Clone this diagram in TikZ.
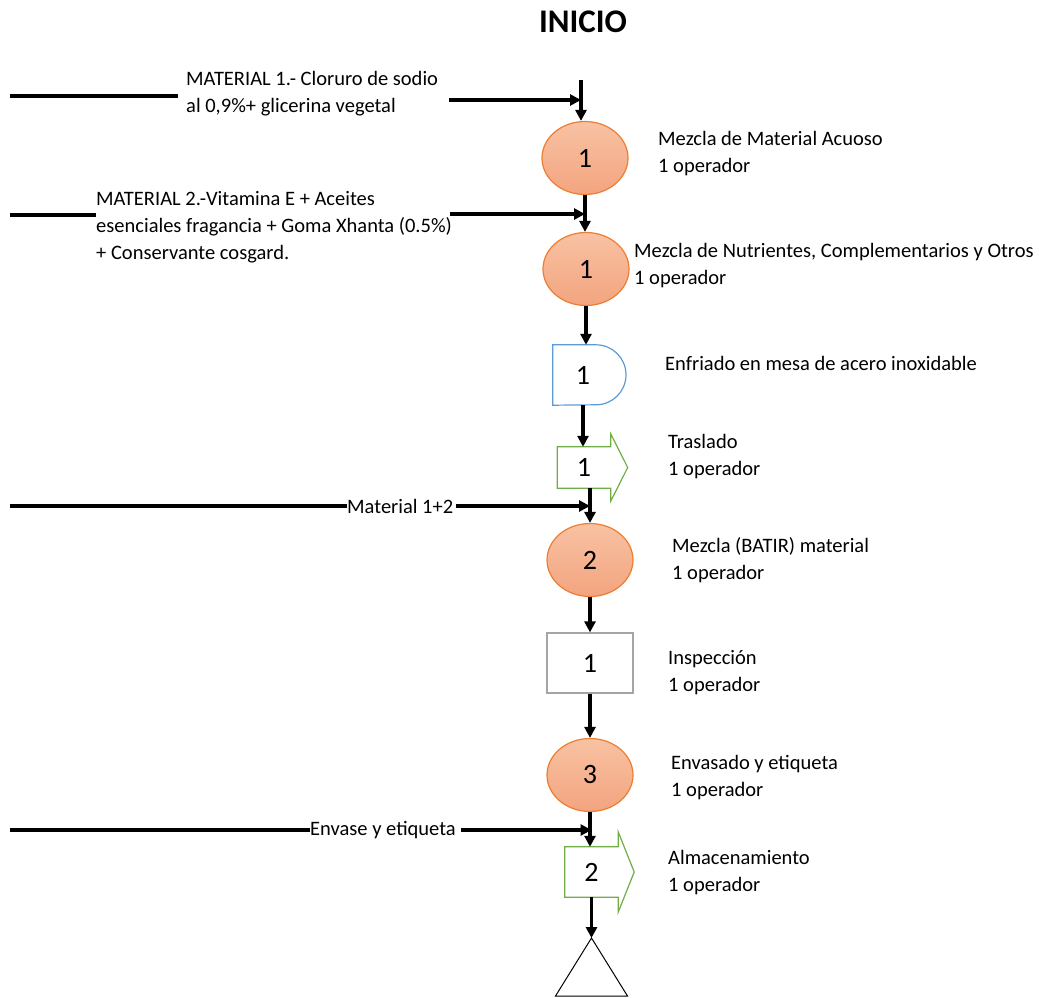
\documentclass[tikz,border=0pt]{standalone}
\usepackage{fontspec}
\setmainfont{Carlito}
\usetikzlibrary{arrows.meta,shapes.geometric}

\definecolor{opborde}{HTML}{ED7D31}
\definecolor{optop}{HTML}{F8C2A3}
\definecolor{opfondo}{HTML}{F3A47F}
\definecolor{demora}{HTML}{5B9BD5}
\definecolor{transp}{HTML}{70AD47}
\definecolor{inspgris}{HTML}{A5A5A5}

\tikzset{
  oper/.style={ellipse, draw=opborde, line width=1.2pt, top color=optop, bottom color=opfondo,
    minimum width=86pt, minimum height=73pt, inner sep=0pt, font=\fontsize{28}{30}\selectfont},
  numero/.style={inner sep=0pt, font=\fontsize{28}{30}\selectfont},
  texto/.style={inner sep=0pt, align=left, font=\fontsize{20.5}{27}\selectfont},
  flujo/.style={line width=3.2pt, -{Triangle[length=11pt,width=11pt]}},
  linea/.style={line width=3.2pt},
}

% flecha de traslado / almacenamiento (nodo, extension de la punta, largo de la punta)
\def\traslado(#1)(#2:#3){\draw[transp, line width=1.2pt, line join=miter]
  (#1.north west) -- (#1.north east) -- ([yshift=#2]#1.north east)
  -- ([xshift=#3]#1.east) -- ([yshift=-#2]#1.south east) -- (#1.south east)
  -- (#1.south west) -- cycle;}

\begin{document}
\begin{tikzpicture}[x=1pt,y=1pt]
  \useasboundingbox (0,0) rectangle (1039,-998);

  %%%%% TITULO %%%%%
  \node[inner sep=0pt, font=\fontsize{33}{36}\selectfont\bfseries] (inicio) at (583,-22) {INICIO};

  %%%%% LINEA PRINCIPAL %%%%%
  \coordinate (ini) at (581,-80);
  \node[oper] (c1) at (585,-158) {1};
  \node[oper] (c2) at (586,-269) {1};

  \node[numero, minimum width=60pt, minimum height=60pt] (d1) at (583,-375) {1};
  \draw[demora, line width=1.2pt] (d1.north west) -- ([xshift=13pt]d1.north)
    arc[start angle=90, end angle=-90, radius=30pt] -- (d1.south west) -- cycle;

  \node[numero, minimum width=53pt, minimum height=41pt] (t1) at (584,-467.5) {1};
  \traslado(t1)(13pt:17pt)

  \node[oper] (c3) at (590,-560) {2};
  \node[numero, draw=inspgris, line width=1.2pt, minimum width=86pt, minimum height=60pt] (r1) at (590,-663) {1};
  \node[oper] (c4) at (590,-775) {3};

  \node[numero, minimum width=53pt, minimum height=50pt] (t2) at (591.5,-872) {2};
  \traslado(t2)(15pt:16pt)

  \coordinate (alm) at (591.5,-938);
  \draw[line width=1pt] (alm) -- ++(-36,-58) -- ++(72,0) -- cycle;

  \draw[flujo] (ini) -- (ini |- c1.north);
  \draw[flujo] (c1.south) -- (c1.south |- c2.north);
  \draw[flujo] (c2.south) -- (c2.south |- d1.north);
  \draw[flujo] (d1.south) -- (d1.south |- t1.north);
  \draw[flujo] (t1.south -| c3.north) -- (c3.north);
  \draw[flujo] (c3.south) -- (r1.north);
  \draw[flujo] (r1.south) -- (c4.north);
  \draw[flujo] (c4.south) -- (c4.south |- t2.north);
  \draw[flujo] (t2.south) -- (alm);

  %%%%% ENTRADAS %%%%%
  \node[texto, anchor=west] (mat1) at (186,-94) {MATERIAL 1.- Cloruro de sodio\\al 0,9\%+ glicerina vegetal};
  \coordinate (e1) at (10,-96);
  \coordinate (s1) at (449,-100);
  \draw[linea] (e1) -- ([xshift=-8pt]e1 -| mat1.west);
  \draw[flujo] (s1) -- (s1 -| ini);

  \node[texto, anchor=west] (mat2) at (96,-227) {MATERIAL 2.-Vitamina E + Aceites\\esenciales fragancia + Goma Xhanta (0.5\%)\\+ Conservante cosgard.};
  \coordinate (e2) at (10,-215);
  \coordinate (s2) at (450,-214);
  \draw[linea] (e2) -- (e2 -| mat2.west);
  \draw[flujo] (s2) -- (s2 -| c1.south);

  \node[texto, anchor=west] (mat12) at (347,-506) {Material 1+2};
  \coordinate (e3) at (10,-506);
  \draw[linea] (e3) -- (mat12.west);
  \draw[flujo] ([xshift=3pt]mat12.east) -- (mat12.east -| c3.north);

  \node[texto, anchor=west] (env) at (310,-830) {Envase y etiqueta};
  \coordinate (e4) at (10,-830);
  \draw[linea] (e4) -- (env.west);
  \draw[flujo] ([xshift=5pt]env.east) -- (env.east -| t2.north);

  %%%%% DESCRIPCIONES %%%%%
  \node[texto, anchor=west] (lab1) at (658,-153.5) {Mezcla de Material Acuoso\\1 operador};
  \node[texto, anchor=west] (lab2) at (634,-266) {Mezcla de Nutrientes, Complementarios y Otros\\1 operador};
  \node[texto, anchor=west] (lab3) at (665,-363) {Enfriado en mesa de acero inoxidable};
  \node[texto, anchor=west] (lab4) at (668,-456.5) {Traslado\\1 operador};
  \node[texto, anchor=west] (lab5) at (672,-560) {Mezcla (BATIR) material\\1 operador};
  \node[texto, anchor=west] (lab6) at (668,-672.5) {Inspección\\1 operador};
  \node[texto, anchor=west] (lab7) at (671,-777.5) {Envasado y etiqueta\\1 operador};
  \node[texto, anchor=west] (lab8) at (668,-872.5) {Almacenamiento\\1 operador};
\end{tikzpicture}
\end{document}
